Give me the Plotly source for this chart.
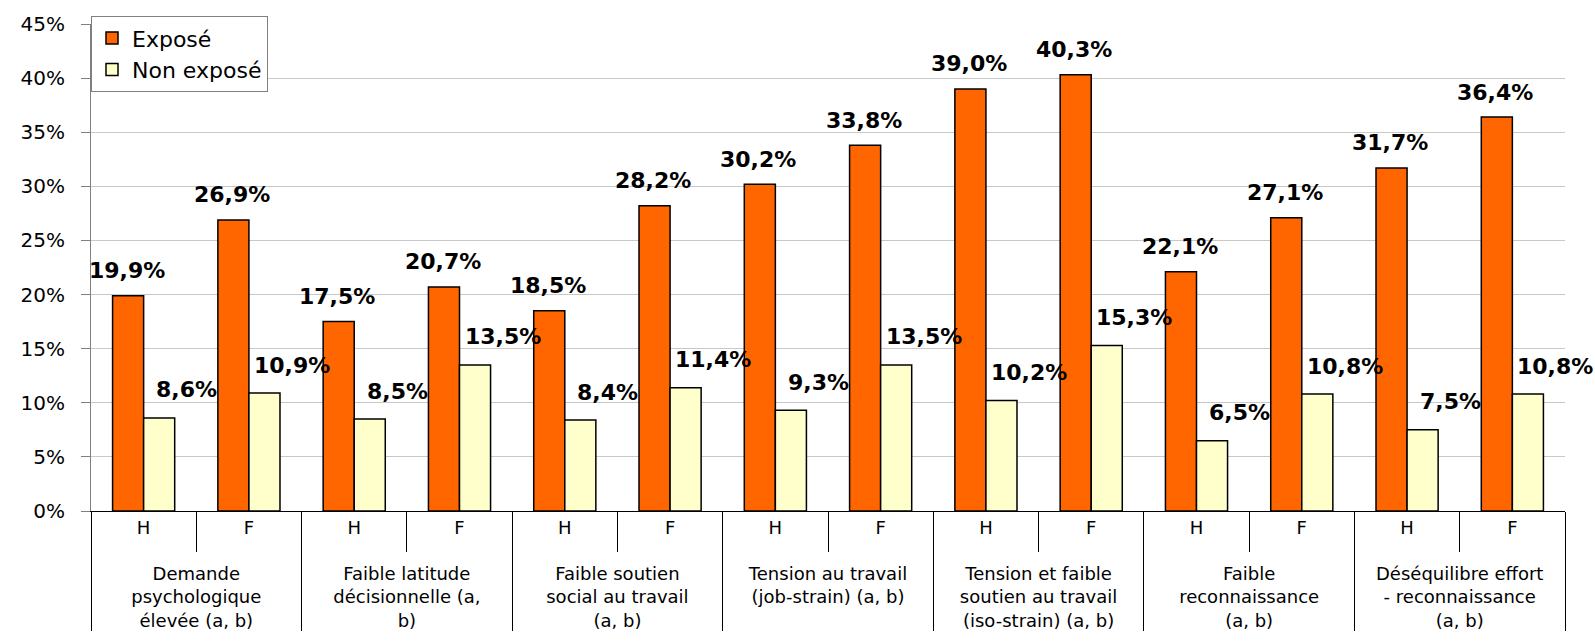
import plotly.graph_objects as go

categories = [
    "Demande<br>psychologique<br>élevée (a, b)",
    "Faible latitude<br>décisionnelle (a,<br>b)",
    "Faible soutien<br>social au travail<br>(a, b)",
    "Tension au travail<br>(job-strain) (a, b)",
    "Tension et faible<br>soutien au travail<br>(iso-strain) (a, b)",
    "Faible<br>reconnaissance<br>(a, b)",
    "Déséquilibre effort<br>- reconnaissance<br>(a, b)",
]
sexes = ["H", "F"]
expose = [19.9, 26.9, 17.5, 20.7, 18.5, 28.2, 30.2, 33.8, 39.0, 40.3, 22.1, 27.1, 31.7, 36.4]
non_expose = [8.6, 10.9, 8.5, 13.5, 8.4, 11.4, 9.3, 13.5, 10.2, 15.3, 6.5, 10.8, 7.5, 10.8]
y_ticks = [0, 5, 10, 15, 20, 25, 30, 35, 40, 45]

FONT = "DejaVu Sans"

# two-level x: category / sex  (leading <br> pushes the group names down a line)
lvl1 = ["<br>" + c for c in categories for _ in sexes]
lvl2 = [s for _ in categories for s in sexes]


def fmt(v):
    return f"{v:.1f}".replace(".", ",") + "%"


fig = go.Figure()
fig.add_trace(go.Bar(x=[lvl1, lvl2], y=expose, name="Exposé",
                     marker=dict(color="#FF6600", line=dict(color="#000000", width=1.5))))
fig.add_trace(go.Bar(x=[lvl1, lvl2], y=non_expose, name="Non exposé",
                     marker=dict(color="#FFFFCC", line=dict(color="#000000", width=1.5))))

# value labels (placed like the Excel ones: above, a bit to the right)
for i, v in enumerate(expose):
    fig.add_annotation(x=i, y=v, text=fmt(v), showarrow=False, xshift=-17, yshift=25,
                       yanchor="middle", font=dict(family=FONT, size=22, color="#000000", weight="bold"))
for i, v in enumerate(non_expose):
    fig.add_annotation(x=i, y=v, text=fmt(v), showarrow=False, xshift=43, yshift=28,
                       yanchor="middle", font=dict(family=FONT, size=22, color="#000000", weight="bold"))

fig.update_layout(
    width=1595, height=642,
    margin=dict(l=91, r=30, t=22, b=129),
    paper_bgcolor="white", plot_bgcolor="white",
    barmode="group", bargap=0.41, bargroupgap=0,
    font=dict(family=FONT, size=18, color="#000000"),
    showlegend=True,
    legend=dict(x=0, y=1.016, xanchor="left", yanchor="top",
                bgcolor="white", bordercolor="#808080", borderwidth=1,
                font=dict(family=FONT, size=22, color="#000000"),
                itemwidth=30, tracegroupgap=0,
                entrywidth=165, entrywidthmode="pixels"),
)
fig.update_yaxes(range=[0, 45], tickvals=y_ticks, ticktext=[f"{t}%" for t in y_ticks],
                 showgrid=True, gridcolor="#C8C8C8", gridwidth=1,
                 showline=True, linecolor="#808080", linewidth=1,
                 ticks="outside", ticklen=9, tickcolor="#808080",
                 ticklabelstandoff=12, zeroline=False,
                 tickfont=dict(family=FONT, size=20))
fig.update_xaxes(type="multicategory", range=[-0.5, 13.5],
                 showline=True, linecolor="#000000", linewidth=1,
                 ticks="outside", tickson="boundaries", ticklen=40, tickcolor="#000000",
                 showdividers=True, dividercolor="#000000", dividerwidth=1,
                 tickfont=dict(family=FONT, size=18), showgrid=False)

# drop the default 8px body margin so the figure sits at the page corner
fig.write_html("out.html", config={"displayModeBar": False},
               post_script="document.body.style.margin='0';")
